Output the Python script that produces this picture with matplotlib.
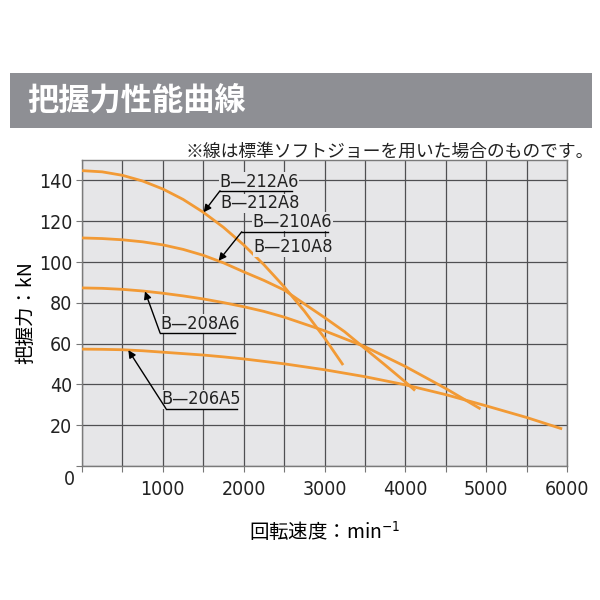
import matplotlib
matplotlib.use("Agg")
import matplotlib.pyplot as plt
from matplotlib.patches import Rectangle

# grip force curves (rpm, kN)
rpm_212 = [0, 250, 500, 750, 1000, 1250, 1500, 1750, 2000, 2250, 2500, 2750, 3000, 3230]
kn_212 = [144.8, 144.2, 142.5, 139.7, 135.8, 130.7, 124.4, 117, 108.4, 98.7, 87.9, 76, 62.8, 49.5]

rpm_210 = [0, 250, 500, 750, 1000, 1250, 1500, 1750, 2000, 2250, 2500, 2750, 3000, 3250, 3500, 3750, 4000, 4120]
kn_210 = [111.8, 111.5, 110.9, 109.9, 108.4, 106.2, 103.3, 99.6, 95.2, 91, 86.3, 79.5, 72.8, 65.8, 57.6, 49.5, 41.2, 37]

rpm_208 = [0, 250, 500, 750, 1000, 1250, 1500, 1750, 2000, 2250, 2500, 3000, 3500, 4000, 4500, 4930]
kn_208 = [87.3, 87.1, 86.6, 85.8, 84.7, 83.4, 81.9, 80.1, 78.1, 75.8, 73, 66.3, 58.5, 48.8, 38, 28]

rpm_206 = [0, 250, 500, 750, 1000, 1250, 1500, 1750, 2000, 2500, 3000, 3500, 4000, 4500, 5000, 5500, 5940]
kn_206 = [57.3, 57.2, 57, 56.5, 55.8, 55.1, 54.4, 53.5, 52.5, 50.1, 47.2, 43.8, 39.8, 35, 29.5, 23.8, 18.2]

x_ticks = [0, 1000, 2000, 3000, 4000, 5000, 6000]
y_ticks = [20, 40, 60, 80, 100, 120, 140]

ORANGE = "#f29a35"
BG = "#e6e6e8"
GRID = "#4f4f52"
JP = ["Noto Sans CJK JP", "DejaVu Sans"]

plt.rcParams["font.family"] = ["DejaVu Sans", "Noto Sans CJK JP"]
plt.rcParams["font.stretch"] = "condensed"

fig = plt.figure(figsize=(6, 6), dpi=100)
fig.patch.set_facecolor("white")

# title bar
fig.patches.append(Rectangle((0.016, 0.786), 0.971, 0.0915, transform=fig.transFigure,
                             facecolor="#8e8f94", edgecolor="none"))
fig.text(0.046, 0.832, "把握力性能曲線", family=JP, fontsize=22.5, fontweight="bold",
         color="white", va="center", ha="left")
fig.text(0.99, 0.747, "※線は標準ソフトジョーを用いた場合のものです。", family=JP,
         fontsize=12.8, color="#222222", va="center", ha="right")

ax = fig.add_axes([0.1367, 0.2233, 0.8083, 0.51])
ax.set_facecolor(BG)
ax.set_xlim(0, 6000)
ax.set_ylim(0, 150)

ax.set_xticks(range(0, 6001, 500))
ax.set_yticks(range(0, 151, 20))
ax.grid(True, color=GRID, linewidth=0.9)
ax.set_axisbelow(True)
ax.tick_params(length=4, color="#777777", labelsize=14, labelcolor="#222222", pad=3)
ax.set_xticklabels([str(v) if v in x_ticks[1:] else "" for v in range(0, 6001, 500)])
ax.set_yticklabels([str(v) if v in y_ticks else "" for v in range(0, 151, 20)])
ax.tick_params(axis="x", pad=6)
ax.text(-160, -6.8, "0", fontsize=14, color="#222222", ha="center", va="center", clip_on=False)
for s in ax.spines.values():
    s.set_color("#7a7a7a")
    s.set_linewidth(1.0)

for xs, ys in [(rpm_212, kn_212), (rpm_210, kn_210), (rpm_208, kn_208), (rpm_206, kn_206)]:
    ax.plot(xs, ys, color=ORANGE, linewidth=2, solid_capstyle="butt", zorder=3)

# labels with leader arrows
lbl_kw = dict(fontsize=13, color="#222222", ha="center", va="center", zorder=5,
              bbox=dict(facecolor=BG, edgecolor="none", pad=0.5))
arrow_kw = dict(arrowstyle="-|>", color="black", lw=1.0, mutation_scale=11, shrinkA=0, shrinkB=0)


def label(top, bottom, tx, ty_top, ty_bot, ul_x0, ul_x1, ul_y, tip):
    ax.text(tx, ty_top, top, **lbl_kw)
    if bottom:
        ax.text(tx + 10, ty_bot, bottom, **lbl_kw)
    ax.plot([ul_x0, ul_x1], [ul_y, ul_y], color="black", linewidth=1.0, zorder=5)
    ax.annotate("", xy=tip, xytext=(ul_x0, ul_y), arrowprops=arrow_kw, zorder=5)


label("B—212A6", "B—212A8", 2190, 139.4, 128.8, 1707, 2594, 134.9, (1505, 124.4))
label("B—210A6", "B—210A8", 2605, 119.8, 107.4, 1976, 3047, 114.8, (1690, 100.6))
label("B—208A6", None, 1464, 69.6, None, 965, 1893, 65.3, (779, 85.6))
label("B—206A5", None, 1472, 32.7, None, 1039, 1914, 28.1, (573, 56.8))

ax.set_xlabel("回転速度：min$^{\\mathsf{-1}}$", family=JP, fontsize=14, labelpad=15)
ax.set_ylabel("把握力：kN", family=JP, fontsize=14, labelpad=2)

fig.savefig("out.png", dpi=100)
